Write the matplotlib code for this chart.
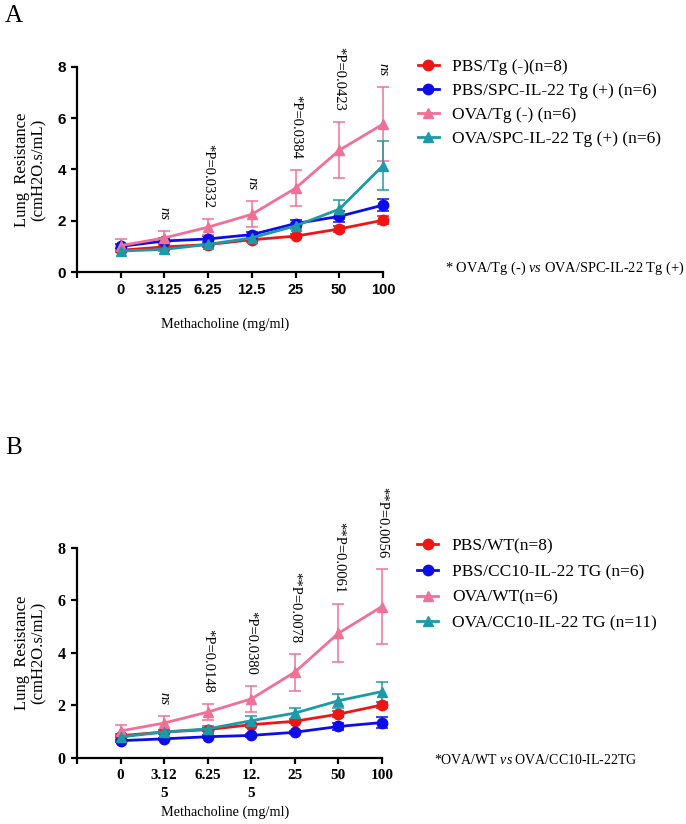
import matplotlib
matplotlib.use('Agg')
import matplotlib.pyplot as plt

plt.rcParams['mathtext.fontset'] = 'custom'
plt.rcParams['mathtext.rm'] = 'Liberation Serif'
plt.rcParams['mathtext.it'] = 'Liberation Serif:italic'

# methacholine doses (categorical axis)
doses_a = ['0', '3.125', '6.25', '12.5', '25', '50', '100']
doses_b = ['0', '3.12\n5', '6.25', '12.\n5', '25', '50', '100']

# panel A: SPC-IL-22
red_a = [0.85, 0.98, 1.07, 1.26, 1.40, 1.68, 2.02]
red_a_err = [0.08, 0.08, 0.08, 0.08, 0.08, 0.10, 0.15]
blue_a = [1.00, 1.21, 1.29, 1.46, 1.89, 2.17, 2.61]
blue_a_err = [0.10, 0.10, 0.10, 0.10, 0.12, 0.22, 0.24]
pink_a = [1.03, 1.33, 1.75, 2.25, 3.27, 4.75, 5.77]
pink_a_err = [0.24, 0.26, 0.30, 0.51, 0.70, 1.10, 1.43]
teal_a = [0.82, 0.88, 1.08, 1.33, 1.80, 2.45, 4.15]
teal_a_err = [0.05, 0.06, 0.08, 0.10, 0.12, 0.37, 0.95]
labels_a = ['PBS/Tg (-)(n=8)', 'PBS/SPC-IL-22 Tg (+) (n=6)',
            'OVA/Tg (-) (n=6)', 'OVA/SPC-IL-22 Tg (+) (n=6)']
stats_a = [None, 'ns', '*P=0.0332', 'ns', '*P=0.0384', '*P=0.0423', 'ns']

# panel B: CC10-IL-22
red_b = [0.85, 0.99, 1.08, 1.27, 1.40, 1.67, 2.02]
red_b_err = [0.05, 0.06, 0.07, 0.08, 0.08, 0.12, 0.13]
blue_b = [0.66, 0.73, 0.81, 0.86, 0.98, 1.20, 1.35]
blue_b_err = [0.04, 0.04, 0.05, 0.05, 0.06, 0.15, 0.22]
pink_b = [1.03, 1.33, 1.75, 2.25, 3.27, 4.75, 5.77]
pink_b_err = [0.24, 0.26, 0.30, 0.51, 0.70, 1.10, 1.43]
teal_b = [0.80, 0.99, 1.11, 1.42, 1.71, 2.18, 2.53]
teal_b_err = [0.05, 0.08, 0.10, 0.18, 0.21, 0.26, 0.38]
labels_b = ['PBS/WT(n=8)', 'PBS/CC10-IL-22 TG (n=6)',
            'OVA/WT(n=6)', 'OVA/CC10-IL-22 TG (n=11)']
stats_b = [None, 'ns', '*P=0.0148', '*P=0.0380', '**P=0.0078', '**P=0.0061', '**P=0.0056']

colors = ['#ee1515', '#0d0de8', '#f07098', '#1c9aa8']
markers = ['o', 'o', '^', '^']
SERIF = 'Liberation Serif'
SANS = 'Liberation Sans'


def panel(ax, series, errs, labels, stats, doses, tickfont, tick_fs):
    x = list(range(len(doses)))
    handles = []
    for y, e, c, m in zip(series, errs, colors, markers):
        cont = ax.errorbar(x, y, yerr=e, color=c, marker=m, markersize=7.5,
                           lw=2, elinewidth=1.1, capsize=4, capthick=1.1,
                           clip_on=False)
        handles.append(cont[0])
    pink, perr = series[2], errs[2]
    for xi, s in enumerate(stats):
        if s is None:
            continue
        ax.annotate(s, (xi, pink[xi] + perr[xi]), xytext=(0, 8),
                    textcoords='offset points', rotation=270,
                    ha='center', va='bottom', family=SERIF, fontsize=10.5,
                    style='italic' if s == 'ns' else 'normal',
                    annotation_clip=False)
    ax.set_xlim(-1, 6)
    ax.set_ylim(0, 8)
    ax.set_yticks([0, 2, 4, 6, 8])
    ax.set_xticks(range(-1, 7))
    ax.set_xticklabels([''] + doses, family=tickfont, fontweight='bold',
                       fontsize=tick_fs, linespacing=1.5)
    ax.set_yticklabels(['0', '2', '4', '6', '8'], family=tickfont,
                       fontweight='bold', fontsize=tick_fs + 0.5)
    for side in ['top', 'right']:
        ax.spines[side].set_visible(False)
    for side in ['left', 'bottom']:
        ax.spines[side].set_linewidth(1.6)
    ax.tick_params(width=1.6, length=4, pad=4)
    ax.set_ylabel('Lung  Resistance\n(cmH2O.s/mL)', family=SERIF, fontsize=12,
                  linespacing=1.05)
    ax.yaxis.set_label_coords(-0.1, 0.5)
    return handles


fig = plt.figure(figsize=(6.86, 8.24), dpi=100)

ax_a = fig.add_axes([0.1122, 0.6699, 0.446, 0.2488])
h_a = panel(ax_a, [red_a, blue_a, pink_a, teal_a],
            [red_a_err, blue_a_err, pink_a_err, teal_a_err],
            labels_a, stats_a, doses_a, SANS, 10.5)
ax_a.set_xlabel('Methacholine (mg/ml)', family=SERIF, fontsize=10.3)
ax_a.xaxis.set_label_coords(0.485, -0.22)
ax_a.legend(h_a, labels_a, loc='upper left', bbox_to_anchor=(0.609, 0.9285),
            bbox_transform=fig.transFigure, frameon=False, borderpad=0,
            borderaxespad=0, handlelength=1.2, handletextpad=0.8,
            labelspacing=0.45, prop={'family': SERIF, 'size': 12.5})
fig.text(445 / 686, 1 - 268 / 824,
         '* OVA/Tg (-) $\\it{vs}$ OVA/SPC-IL-22 Tg (+)',
         family=SERIF, fontsize=10.4, va='center', ha='left')
fig.text(5 / 686, 1 - 16 / 824, 'A', family=SERIF, fontsize=18,
         va='center', ha='left')

ax_b = fig.add_axes([0.1122, 0.0801, 0.4446, 0.2549])
h_b = panel(ax_b, [red_b, blue_b, pink_b, teal_b],
            [red_b_err, blue_b_err, pink_b_err, teal_b_err],
            labels_b, stats_b, doses_b, SERIF, 11)
ax_b.set_xlabel('Methacholine (mg/ml)', family=SERIF, fontsize=10.3)
ax_b.xaxis.set_label_coords(0.485, -0.228)
ax_b.legend(h_b, labels_b, loc='upper left', bbox_to_anchor=(0.608, 0.347),
            bbox_transform=fig.transFigure, frameon=False, borderpad=0,
            borderaxespad=0, handlelength=1.2, handletextpad=0.8,
            labelspacing=0.55, prop={'family': SERIF, 'size': 12.5})
fig.text(434 / 686, 1 - 760 / 824,
         '*OVA/WT $\\it{vs}$ OVA/CC10-IL-22TG',
         family=SERIF, fontsize=10, va='center', ha='left')
fig.text(5 / 686, 1 - 448 / 824, 'B', family=SERIF, fontsize=18,
         va='center', ha='left')

fig.savefig('out.png', dpi=100)
